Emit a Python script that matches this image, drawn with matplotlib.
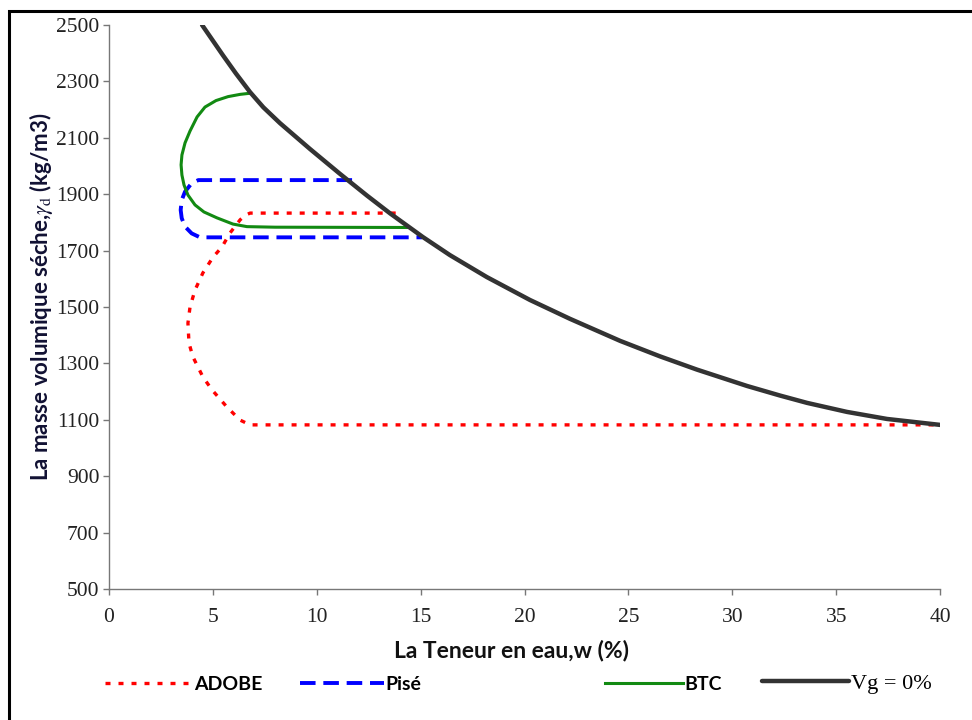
import matplotlib
matplotlib.use("Agg")
import matplotlib.pyplot as plt
from matplotlib.patches import Rectangle

plt.rcParams['font.family'] = ['Liberation Serif', 'DejaVu Serif']
plt.rcParams['mathtext.fontset'] = 'stix'

# ---- data ----
adobe_w = [13.8, 6.79, 6.55, 6.31, 5.82, 5.44, 5.01, 4.52, 4.14, 3.90, 3.80, 3.85, 4.04, 4.52, 4.96, 5.68, 6.31, 6.79, 40.0]
adobe_g = [1833, 1833, 1825, 1809, 1762, 1713, 1677, 1621, 1560, 1500, 1443, 1372, 1323, 1252, 1206, 1145, 1099, 1082, 1082]

pise_w = [11.7, 4.30, 3.98, 3.66, 3.50, 3.45, 3.50, 3.66, 3.98, 4.38, 15.07]
pise_g = [1950, 1950, 1939, 1909, 1879, 1844, 1815, 1785, 1761, 1747, 1747]

btc_w = [6.79, 6.31, 5.73, 5.15, 4.62, 4.24, 3.90, 3.66, 3.51, 3.47, 3.51, 3.61, 3.80, 4.14, 4.57,
         5.20, 5.97, 6.64, 7.99, 14.34]
btc_g = [2258, 2254, 2246, 2232, 2209, 2174, 2124, 2082, 2039, 2004, 1968, 1933, 1897, 1862, 1837,
         1816, 1794, 1785, 1783, 1782]

vg_w = [4.48, 5.49, 6.11, 6.79, 7.43, 8.23, 9.68, 11.12, 12.42, 13.53, 15.11, 16.41, 18.19, 20.26,
        22.19, 24.60, 26.52, 28.30, 30.71, 32.30, 33.60, 35.52, 37.45, 40.0]
vg_g = [2500, 2392, 2328, 2262, 2208, 2152, 2060, 1972, 1895, 1832, 1748, 1684, 1606, 1525,
        1458, 1380, 1325, 1278, 1220, 1186, 1160, 1128, 1103, 1082]

x_ticks = [0, 5, 10, 15, 20, 25, 30, 35, 40]
y_ticks = [500, 700, 900, 1100, 1300, 1500, 1700, 1900, 2100, 2300, 2500]

labels = ["ADOBE", "Pisé", "BTC", "Vg = 0%"]
xlabel = "La Teneur en eau,w (%)"
ylabel = "La masse volumique séche,$\\gamma_{\\mathrm{d}}$ (kg/m3)"

# ---- figure ----
fig = plt.figure(figsize=(9.72, 7.2), dpi=100)
ax = fig.add_axes([109/972, 1-589/720, (940-109)/972, (589-25)/720])

l_adobe, = ax.plot(adobe_w, adobe_g, color="#ff0000", lw=2.4, linestyle=(0, (1.5, 2.4)),
                   dash_capstyle="butt", zorder=2)
l_pise, = ax.plot(pise_w, pise_g, color="#0000ff", lw=2.8, linestyle=(0, (4.0, 2.0)),
                  dash_capstyle="butt", zorder=2)
l_btc, = ax.plot(btc_w, btc_g, color="#128a12", lw=2.2, zorder=3)
l_vg, = ax.plot(vg_w, vg_g, color="#333333", lw=3.2, zorder=4, solid_capstyle="round")

ax.set_xlim(0, 40)
ax.set_ylim(500, 2500)
ax.set_xticks(x_ticks, labels=[str(v) for v in x_ticks], fontfamily="Liberation Serif")
ax.set_yticks(y_ticks, labels=[str(v) for v in y_ticks], fontfamily="Liberation Serif")

for s in ["top", "right"]:
    ax.spines[s].set_visible(False)
for s in ["left", "bottom"]:
    ax.spines[s].set_color("#777777")
    ax.spines[s].set_linewidth(1.0)

ax.tick_params(direction="out", length=4.5, width=1, color="#777777",
               labelsize=15.5, labelcolor="#222222")
ax.tick_params(axis="y", pad=2.5)
ax.tick_params(axis="x", pad=9)

ax.set_xlabel(xlabel, fontfamily="Lato", fontweight="bold", fontsize=16.5, color="#111111")
ax.set_ylabel(ylabel, fontfamily="Lato", fontweight="bold", fontsize=16, color="#111133")
ax.xaxis.set_label_coords(0.484, -0.090)
ax.yaxis.set_label_coords(-0.065, 0.518)

# ---- legend entries below the axes ----
entries = [
    (l_adobe, labels[0], 105, dict(family="Lato", weight="bold", size=14), 4.5),
    (l_pise, labels[1], 300, dict(family="Lato", weight="bold", size=14), 4.3),
    (l_btc, labels[2], 605, dict(family="Lato", weight="bold", size=14), 4.0),
    (l_vg, labels[3], 762, dict(family="Liberation Serif", size=16), 3.9),
]
for h, t, x0, prop, hl in entries:
    fig.legend(handles=[h], labels=[t], loc="center left",
               bbox_to_anchor=(x0/972, 1-684/720), frameon=False,
               prop=prop, handlelength=hl, handletextpad=0.1,
               borderpad=0, borderaxespad=0)

# ---- outer frame (top and left visible) ----
fig.add_artist(Rectangle((9/972, -0.05), 1.2, 1-11/720+0.05, transform=fig.transFigure,
                         fill=False, lw=2.2, edgecolor="black", clip_on=False))

fig.savefig("out.png", dpi=100)
